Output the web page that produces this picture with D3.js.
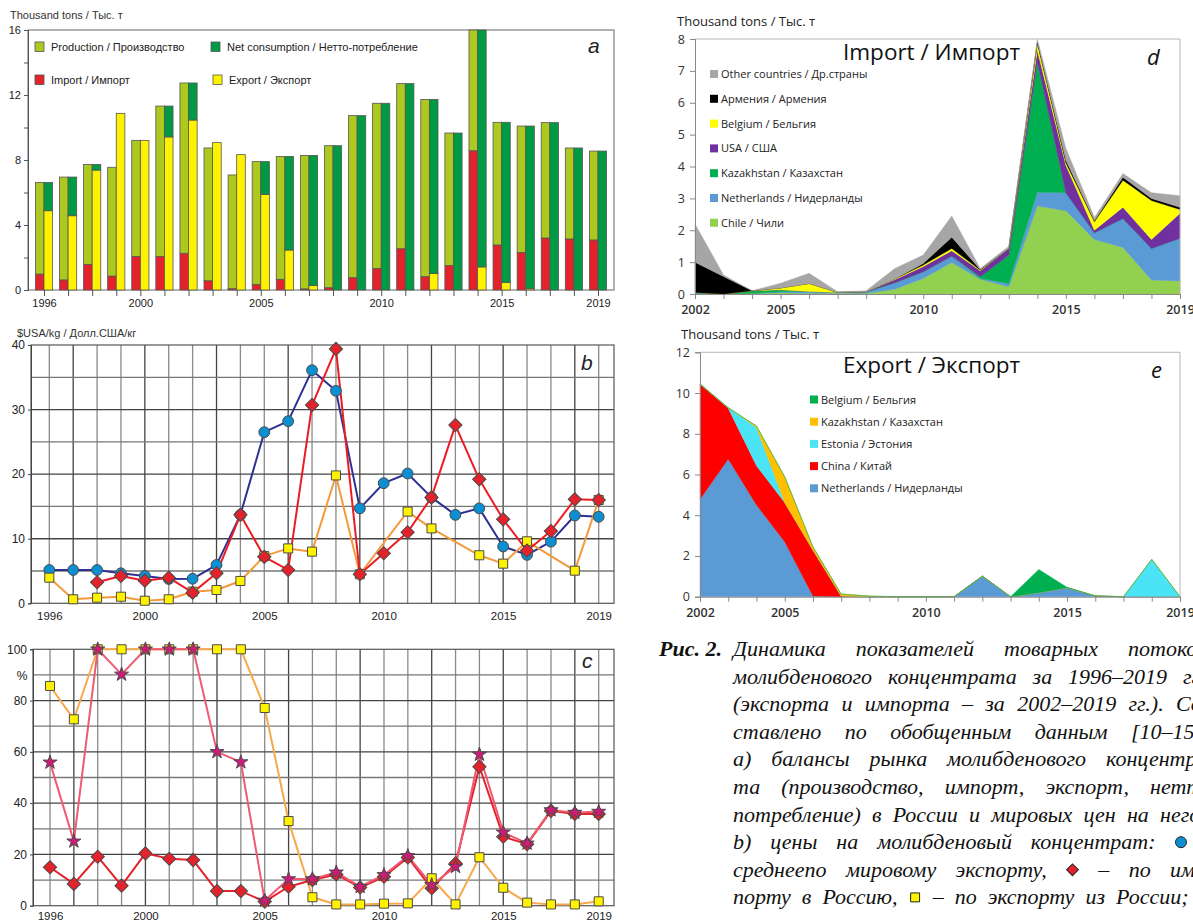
<!DOCTYPE html>
<html>
<head>
<meta charset="utf-8">
<script src="https://cdn.jsdelivr.net/npm/d3@7"></script>
<style>
  body { margin: 0; background: #fff; }
  svg { display: block; }
</style>
</head>
<body>
<svg id="fig" width="1193" height="921"></svg>
<script>
// ---------------- data ----------------
const years = [1996,1997,1998,1999,2000,2001,2002,2003,2004,2005,2006,2007,2008,2009,2010,2011,2012,2013,2014,2015,2016,2017,2018,2019];
const yearLabels = [1996,2000,2005,2010,2015,2019];

// (a) market balance, thousand tons
const importA     = [0.98,0.62,1.58,0.86,2.07,2.07,2.26,0.57,0.08,0.35,0.66,0.07,0.14,0.76,1.33,2.54,0.82,1.50,8.57,2.77,2.30,3.20,3.14,3.08];
const productionA = [5.64,6.33,6.15,6.69,7.14,9.25,10.48,8.17,7.00,7.55,7.56,8.21,8.74,9.97,10.16,10.16,10.91,8.16,7.43,7.55,7.79,7.10,5.60,5.47];
const exportA     = [4.88,4.57,7.38,10.87,9.21,9.42,10.46,9.07,8.33,5.89,2.46,0.27,0,0,0,0,1.02,0,1.42,0.47,0.08,0,0,0];
const netConsA    = [1.74,2.38,0.35,0,0,1.90,2.28,0,0,2.01,5.76,8.01,8.88,10.73,11.49,12.70,10.71,9.66,14.58,9.85,10.01,10.30,8.74,8.55];
const ticksA = [0,2,4,6,8,10,12,14,16];
const labelsA = [0,4,8,12,16];

// (b) prices, $/kg
const worldPrice  = [5.16,5.16,5.16,4.65,4.23,3.77,3.80,5.94,13.7,26.5,28.2,36.1,32.9,14.7,18.6,20.1,16.4,13.7,14.7,8.8,7.5,9.55,13.6,13.4];
const importPrice = [null,null,3.26,4.23,3.5,3.97,1.65,4.65,13.7,7.2,5.16,30.7,39.4,4.5,7.75,11.0,16.4,27.6,19.2,13.0,8.15,11.2,16.1,16.0];
const exportPrice = [3.97,0.62,0.87,1.02,0.4,0.62,1.8,2.06,3.46,7.3,8.5,8.0,19.8,4.5,null,14.2,11.6,null,7.44,6.14,9.6,null,5.05,16.0];
const gridB = [5,10,15,20,25,30,35];
const labelsB = [0,10,20,30,40];

// (c) shares, %
const exportShare  = [85.7,72.7,100,100,100,100,100,100,100,77.1,33.0,3.3,0.5,0.5,0.8,0.9,10.7,0.5,18.9,7.0,1.2,0.5,0.5,1.7];
const importShare  = [15.0,8.5,19.1,7.8,20.4,18.3,17.8,5.7,5.7,1.6,7.4,10.0,12.2,7.1,11.3,18.8,6.8,16.5,54.2,26.9,24.0,37.0,35.8,35.8];
const starShare    = [55.9,25.1,100,90.2,100,100,100,60.0,56.0,2.0,10.4,10.4,13.0,7.4,12.0,19.4,8.1,15.2,59.0,28.6,24.3,37.3,36.3,36.7];
const gridC = [10,20,30,40,50,60,70,80,90];
const labelsC = [0,20,40,60,80,100];

// (d) import by country, thousand tons, 2002-2019
const yearsDE = [2002,2003,2004,2005,2006,2007,2008,2009,2010,2011,2012,2013,2014,2015,2016,2017,2018,2019];
const yearLabelsDE = [2002,2005,2010,2015,2019];
const chileImp = [0,0,0.02,0.04,0.02,0.02,0.02,0.15,0.49,0.99,0.46,0.23,2.76,2.61,1.71,1.46,0.44,0.41];
const nethImp  = [0.03,0,0,0.03,0.06,0.03,0.05,0.20,0.21,0.20,0.03,0.10,0.43,0.57,0.21,0.91,0.99,1.34];
const kazImp   = [0.02,0,0.08,0.06,0,0,0,0,0,0,0.05,0.89,4.09,0,0,0,0,0];
const usaImp   = [0,0,0,0,0,0,0,0.10,0.16,0.17,0.19,0.21,0.37,0.86,0.08,0.35,0.28,0.78];
const belImp   = [0,0,0,0.06,0.25,0,0,0.02,0.05,0.07,0.02,0,0.21,0.08,0.27,0.85,1.22,0.12];
const armImp   = [0.95,0.55,0,0,0,0,0,0,0.05,0.35,0.02,0,0.05,0.08,0.03,0.09,0.07,0.07];
const otherImp = [1.20,0.05,0,0.15,0.32,0.02,0.03,0.33,0.26,0.67,0.03,0.07,0.09,0.37,0.10,0.12,0.18,0.36];
const ticksD = [0,1,2,3,4,5,6,7,8];

// (e) export by country, thousand tons, 2002-2019
const nethExp  = [4.78,6.76,4.50,2.70,0.03,0,0,0,0,0,1.01,0,0.20,0.44,0.03,0,0,0];
const chinaExp = [5.66,2.49,1.93,1.92,2.26,0.03,0,0,0,0,0,0,0,0,0,0,0,0];
const estExp   = [0,0.03,1.88,0,0,0,0,0,0,0,0,0,0,0,0.01,0,1.83,0];
const kazExp   = [0,0,0.07,1.27,0.16,0.10,0.03,0,0,0,0,0,0,0,0,0,0,0];
const belExp   = [0,0,0,0,0,0,0,0,0,0,0,0,1.14,0.02,0,0,0,0];
const ticksE = [0,2,4,6,8,10,12];

// ---------------- common ----------------
const SANS = "'Liberation Sans', Arial, Helvetica, sans-serif";
const OPEN = "'Open Sans', 'Noto Sans', sans-serif";
const SERIF = "'Liberation Serif', 'Times New Roman', serif";
const svg = d3.select('#fig');

function styleAxis(g, lineColor, font, size) {
  g.select('.domain').attr('stroke', lineColor).attr('stroke-width', 1);
  g.selectAll('.tick line').attr('stroke', lineColor);
  g.selectAll('.tick text').attr('fill', '#222').attr('font-family', font).attr('font-size', size);
}

// ================= Panel a: stacked bars =================
(function () {
  const g = svg.append('g');
  const x = d3.scaleLinear().domain([1996, 2019]).range([44, 598]);
  const y = d3.scaleLinear().domain([0, 16]).range([290, 30]);
  const bw = 8.6;
  const rows = years.map((yr, i) => ({ year: yr, imp: importA[i], prod: productionA[i], exp: exportA[i], net: netConsA[i] }));
  const colors = { imp: '#e3222b', prod: '#adc91f', exp: '#fff200', net: '#009a44' };

  g.append('rect').attr('x', 28).attr('y', 30).attr('width', 586).attr('height', 260)
    .attr('fill', 'none').attr('stroke', '#666').attr('stroke-width', 1);

  const left = d3.stack().keys(['imp', 'prod'])(rows);
  const right = d3.stack().keys(['exp', 'net'])(rows);
  const drawStack = (series, dx) => {
    series.forEach(s => {
      g.selectAll(null).data(s.filter(d => d[1] - d[0] > 0)).join('rect')
        .attr('x', d => x(d.data.year) + dx)
        .attr('y', d => y(d[1]))
        .attr('width', bw)
        .attr('height', d => y(d[0]) - y(d[1]))
        .attr('fill', colors[s.key])
        .attr('stroke', '#555').attr('stroke-width', 0.8);
    });
  };
  drawStack(left, -bw);
  drawStack(right, 0);

  const ya = g.append('g').attr('transform', 'translate(28,0)')
    .call(d3.axisLeft(y).tickValues(ticksA).tickSize(4).tickPadding(3).tickFormat(d => labelsA.includes(d) ? d : ''));
  styleAxis(ya, '#555', SANS, 11);
  const xa = g.append('g').attr('transform', 'translate(0,290)')
    .call(d3.axisBottom(x).tickValues(years).tickSize(6).tickPadding(3).tickFormat(d => yearLabels.includes(d) ? d : ''));
  xa.select('.domain').remove();
  styleAxis(xa, '#555', SANS, 11);

  g.append('text').attr('x', 10).attr('y', 19).attr('font-family', SANS).attr('font-size', 11).attr('fill', '#333')
    .text('Thousand tons / Тыс. т');
  g.append('text').attr('x', 588).attr('y', 53).attr('font-family', SANS).attr('font-size', 21)
    .attr('font-style', 'italic').attr('fill', '#222').text('a');

  const legend = [
    { key: 'prod', label: 'Production / Производство', lx: 35, ly: 42 },
    { key: 'net', label: 'Net consumption / Нетто-потребление', lx: 211, ly: 42 },
    { key: 'imp', label: 'Import / Импорт', lx: 35, ly: 75 },
    { key: 'exp', label: 'Export / Экспорт', lx: 213, ly: 75 }
  ];
  legend.forEach(l => {
    g.append('rect').attr('x', l.lx).attr('y', l.ly).attr('width', 9).attr('height', 9.5)
      .attr('fill', colors[l.key]).attr('stroke', '#555').attr('stroke-width', 0.8);
    g.append('text').attr('x', l.lx + 16).attr('y', l.ly + 8.5).attr('font-family', SANS).attr('font-size', 11)
      .attr('fill', '#222').text(l.label);
  });
})();

// ---------- grid-style line panels (b and c) ----------
function gridPanel(opts) {
  const g = svg.append('g');
  const x = d3.scaleLinear().domain([1996, 2019]).range(opts.xr);
  const y = d3.scaleLinear().domain(opts.yd).range(opts.yr);
  const [x0, x1] = [opts.left, 614];
  // grid
  g.selectAll(null).data(years).join('line')
    .attr('x1', d => x(d)).attr('x2', d => x(d)).attr('y1', opts.yr[0]).attr('y2', opts.yr[1])
    .attr('stroke', (d, i) => (i % 3 === 1 ? '#444' : '#8a8a8a')).attr('stroke-width', 1.3);
  g.selectAll(null).data(opts.grid).join('line')
    .attr('x1', x0).attr('x2', x1).attr('y1', d => y(d)).attr('y2', d => y(d))
    .attr('stroke', (d, i) => (i % 2 === 0 ? '#777' : '#444')).attr('stroke-width', 1.3);
  g.append('rect').attr('x', x0).attr('y', opts.yr[1]).attr('width', x1 - x0).attr('height', opts.yr[0] - opts.yr[1])
    .attr('fill', 'none').attr('stroke', '#555').attr('stroke-width', 1.2);

  const ya = g.append('g').attr('transform', `translate(${x0},0)`)
    .call(d3.axisLeft(y).tickValues(opts.labels).tickSize(3).tickPadding(3));
  styleAxis(ya, '#444', SANS, 12);
  const xa = g.append('g').attr('transform', `translate(0,${opts.yr[0]})`)
    .call(d3.axisBottom(x).tickValues(yearLabels).tickSize(0).tickPadding(opts.xpad).tickFormat(d3.format('d')));
  xa.select('.domain').remove();
  styleAxis(xa, '#444', SANS, 11.5);
  return { g, x, y };
}

const symDiamond = d3.symbol().type(d3.symbolSquare).size(88);
const symSquare = d3.symbol().type(d3.symbolSquare).size(82);
const symCircle = d3.symbol().type(d3.symbolCircle).size(92);
const symStar = d3.symbol().type(d3.symbolStar).size(62);

function series(p, values, lineColor, lw, symbol, fill, rotate) {
  const pts = years.map((yr, i) => ({ yr, v: values[i] })).filter(d => d.v !== null);
  p.g.append('path').datum(pts)
    .attr('d', d3.line().x(d => p.x(d.yr)).y(d => p.y(d.v)))
    .attr('fill', 'none').attr('stroke', lineColor).attr('stroke-width', lw).attr('stroke-linejoin', 'round');
  return () => {
    p.g.selectAll(null).data(pts).join('path')
      .attr('d', symbol)
      .attr('transform', d => `translate(${p.x(d.yr)},${p.y(d.v)})` + (rotate ? ' rotate(45)' : ''))
      .attr('fill', fill).attr('stroke', '#4a4a4a').attr('stroke-width', 1);
  };
}

// ================= Panel b: prices =================
(function () {
  const p = gridPanel({ xr: [49.3, 598.7], yd: [0, 40], yr: [603.3, 345], left: 31, grid: gridB, labels: labelsB, xpad: 9 });
  const mWorld = series(p, worldPrice, '#2e3192', 2, symCircle, '#0b8fd0', false);
  const mExp = series(p, exportPrice, '#f39a3c', 2, symSquare, '#fff200', false);
  const mImp = series(p, importPrice, '#ec1c24', 2, symDiamond, '#e3222b', true);
  mWorld(); mExp(); mImp();
  p.g.append('text').attr('x', 17).attr('y', 337).attr('font-family', SANS).attr('font-size', 11).attr('fill', '#333')
    .text('$USA/kg / Долл.США/кг');
  p.g.append('text').attr('x', 581).attr('y', 370).attr('font-family', SANS).attr('font-size', 21)
    .attr('font-style', 'italic').attr('fill', '#222').text('b');
})();

// ================= Panel c: shares =================
(function () {
  const p = gridPanel({ xr: [50, 598.7], yd: [0, 100], yr: [905.7, 649.3], left: 33, grid: gridC, labels: labelsC, xpad: 6 });
  const mExp = series(p, exportShare, '#f7a84a', 2, symSquare, '#fff200', false);
  const mImp = series(p, importShare, '#e3222b', 2, symDiamond, '#e3222b', true);
  const mStar = series(p, starShare, '#ee5a72', 2, symStar, '#cf1a7c', false);
  mExp(); mImp(); mStar();
  p.g.append('text').attr('x', 22).attr('y', p.y(90) + 5).attr('text-anchor', 'middle').attr('font-family', SANS)
    .attr('font-size', 12).attr('fill', '#222').text('%');
  p.g.append('text').attr('x', 582).attr('y', 668).attr('font-family', SANS).attr('font-size', 21)
    .attr('font-style', 'italic').attr('fill', '#222').text('c');
})();

// ---------- stacked area panels (d and e) ----------
function areaPanel(opts) {
  const g = svg.append('g');
  const x = d3.scaleLinear().domain([2002, 2019]).range(opts.xr);
  const y = d3.scaleLinear().domain(opts.yd).range(opts.yr);
  const rows = yearsDE.map((yr, i) => {
    const r = { year: yr };
    opts.layers.forEach(l => { r[l.key] = l.values[i]; });
    return r;
  });
  const stacked = d3.stack().keys(opts.layers.map(l => l.key))(rows);
  const area = d3.area().x(d => x(d.data.year)).y0(d => y(d[0])).y1(d => y(d[1]));
  g.selectAll(null).data(stacked).join('path')
    .attr('d', area)
    .attr('fill', (d, i) => opts.layers[i].color)
    .attr('stroke', (d, i) => opts.layers[i].color).attr('stroke-width', 0.4);

  // frame
  g.append('path').attr('d', `M${opts.xr[0]},${opts.yr[1]}H${opts.xr[1]}V${opts.yr[0]}`)
    .attr('fill', 'none').attr('stroke', '#b5b5b5').attr('stroke-width', 1);
  const ya = g.append('g').attr('transform', `translate(${opts.xr[0]},0)`)
    .call(d3.axisLeft(y).tickValues(opts.ticks).tickSize(5).tickPadding(5));
  styleAxis(ya, '#888', OPEN, 12.5);
  const xa = g.append('g').attr('transform', `translate(0,${opts.yr[0]})`)
    .call(d3.axisBottom(x).tickValues(yearsDE).tickSize(5).tickPadding(6)
      .tickFormat(d => yearLabelsDE.includes(d) ? d : ''));
  styleAxis(xa, '#888', OPEN, 12.5);
  xa.selectAll('.tick text').attr('font-weight', 600).attr('fill', '#333');
  ya.selectAll('.tick text').attr('fill', '#333');

  g.append('text').attr('x', opts.titleX).attr('y', opts.yr[1] - 13).attr('font-family', OPEN).attr('font-size', 13)
    .attr('fill', '#222').text('Thousand tons / Тыс. т');
  g.append('text').attr('x', 843).attr('y', opts.yr[1] + 21).attr('font-family', OPEN).attr('font-size', 22.5)
    .attr('fill', '#111').text(opts.title);
  g.append('text').attr('x', opts.letterX).attr('y', opts.yr[1] + 26).attr('font-family', OPEN).attr('font-size', 22)
    .attr('font-style', 'italic').attr('fill', '#111').text(opts.letter);

  opts.legend.forEach((l, i) => {
    const ly = opts.legendY + i * opts.legendStep;
    g.append('rect').attr('x', opts.legendX).attr('y', ly - 4).attr('width', 8).attr('height', 8).attr('fill', l.color);
    g.append('text').attr('x', opts.legendX + 11).attr('y', ly + 4).attr('font-family', OPEN).attr('font-size', 11)
      .attr('fill', '#222').text(l.label);
  });
}

// ================= Panel d: import =================
(function () {
  const layers = [
    { key: 'chile', values: chileImp, color: '#92d050', label: 'Chile / Чили' },
    { key: 'neth', values: nethImp, color: '#5b9bd5', label: 'Netherlands / Нидерланды' },
    { key: 'kaz', values: kazImp, color: '#00b050', label: 'Kazakhstan / Казахстан' },
    { key: 'usa', values: usaImp, color: '#7030a0', label: 'USA / США' },
    { key: 'bel', values: belImp, color: '#ffff00', label: 'Belgium / Бельгия' },
    { key: 'arm', values: armImp, color: '#000000', label: 'Армения / Армения' },
    { key: 'other', values: otherImp, color: '#a6a6a6', label: 'Other countries / Др.страны' }
  ];
  areaPanel({
    xr: [695, 1180], yd: [0, 8], yr: [294, 39], layers, ticks: ticksD,
    title: 'Import / Импорт', letter: 'd', letterX: 1147, titleX: 677,
    legend: layers.slice().reverse(), legendX: 710, legendY: 74, legendStep: 24.8
  });
})();

// ================= Panel e: export =================
(function () {
  const layers = [
    { key: 'neth', values: nethExp, color: '#5b9bd5', label: 'Netherlands / Нидерланды' },
    { key: 'china', values: chinaExp, color: '#ff0000', label: 'China / Китай' },
    { key: 'est', values: estExp, color: '#4be3f6', label: 'Estonia / Эстония' },
    { key: 'kaz', values: kazExp, color: '#ffc000', label: 'Kazakhstan / Казахстан' },
    { key: 'bel', values: belExp, color: '#00b050', label: 'Belgium / Бельгия' }
  ];
  areaPanel({
    xr: [700, 1180], yd: [0, 12], yr: [596.7, 352.3], layers, ticks: ticksE,
    title: 'Export / Экспорт', letter: 'e', letterX: 1151, titleX: 681,
    legend: layers.slice().reverse(), legendX: 810, legendY: 399.5, legendStep: 22.2
  });
})();

// ================= Caption =================
(function () {
  const g = svg.append('g');
  const size = 22;
  const lines = [
    { tokens: ['Динамика', 'показателей', 'товарных', 'потоков'], lastX: 1128 },
    { tokens: ['молибденового', 'концентрата', 'за', '1996–2019', 'гг.'], lastX: 1183 },
    { tokens: ['(экспорта', 'и', 'импорта', '–', 'за', '2002–2019', 'гг.).', 'Со-'], lastX: 1176 },
    { tokens: ['ставлено', 'по', 'обобщенным', 'данным', '[10–15].'], lastX: 1131 },
    { tokens: ['a)', 'балансы', 'рынка', 'молибденового', 'концентра-'], lastX: 1106 },
    { tokens: ['та', '(производство,', 'импорт,', 'экспорт,', 'нетто-'], lastX: 1150 },
    { tokens: ['потребление)', 'в', 'России', 'и', 'мировых', 'цен', 'на', 'него;'], lastX: 1160 },
    { tokens: ['b)', 'цены', 'на', 'молибденовый', 'концентрат:', { mark: 'circle' }], lastX: 1174.5 },
    { tokens: ['среднеепо', 'мировому', 'экспорту,', { mark: 'diamond' }, '–', 'по', 'им-'], lastX: 1170 },
    { tokens: ['порту', 'в', 'Россию,', { mark: 'square' }, '–', 'по', 'экспорту', 'из', 'России;'], lastX: 1116 }
  ];
  const x0 = 733, base0 = 656, step = 27.6;
  const meas = g.append('text').attr('font-family', SERIF).attr('font-size', size).attr('font-style', 'italic');
  const widthOf = t => (typeof t === 'string') ? (meas.text(t), meas.node().getComputedTextLength()) : 13;

  g.append('text').attr('x', 659).attr('y', base0).attr('font-family', SERIF).attr('font-size', size)
    .attr('font-style', 'italic').attr('font-weight', 'bold').attr('fill', '#111').text('Рис. 2.');

  lines.forEach((ln, li) => {
    const by = base0 + li * step;
    const widths = ln.tokens.map(widthOf);
    const inner = widths.slice(0, -1).reduce((a, b) => a + b, 0);
    const gap = (ln.lastX - x0 - inner) / (ln.tokens.length - 1);
    let cx = x0;
    ln.tokens.forEach((t, ti) => {
      if (typeof t === 'string') {
        g.append('text').attr('x', cx).attr('y', by).attr('font-family', SERIF).attr('font-size', size)
          .attr('font-style', 'italic').attr('fill', '#111').text(t);
      } else {
        const cxm = cx + widths[ti] / 2, cym = by - 7;
        if (t.mark === 'circle') {
          g.append('circle').attr('cx', cxm).attr('cy', cym).attr('r', 5.5)
            .attr('fill', '#0b8fd0').attr('stroke', '#222').attr('stroke-width', 1);
        } else if (t.mark === 'diamond') {
          g.append('path').attr('d', d3.symbol().type(d3.symbolSquare).size(70)())
            .attr('transform', `translate(${cxm},${cym}) rotate(45)`)
            .attr('fill', '#e3222b').attr('stroke', '#222').attr('stroke-width', 1);
        } else {
          g.append('path').attr('d', d3.symbol().type(d3.symbolSquare).size(80)())
            .attr('transform', `translate(${cxm},${cym})`)
            .attr('fill', '#fff200').attr('stroke', '#222').attr('stroke-width', 1);
        }
      }
      cx += widths[ti] + gap;
    });
  });
  meas.remove();
})();
</script>
</body>
</html>
